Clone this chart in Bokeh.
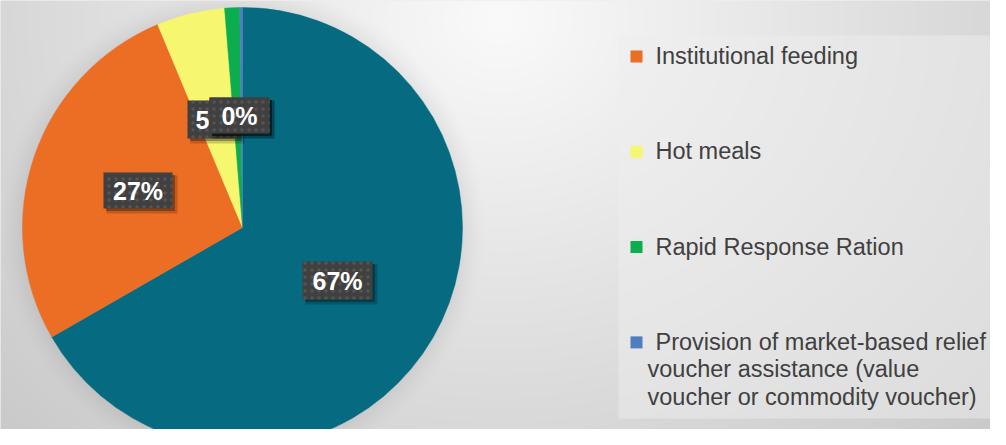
import math
import textwrap
import numpy as np
from bokeh.plotting import figure
from bokeh.models import Range1d, ColumnDataSource
from bokeh.core.properties import value
from bokeh.embed import file_html
from bokeh.resources import INLINE

# ---------------- data ----------------
categories = [
    "Food distribution",
    "Institutional feeding",
    "Hot meals",
    "Rapid Response Ration",
    "Provision of market-based relief voucher assistance (value voucher or commodity voucher)",
]
shares = [66.7, 27.0, 5.0, 1.1, 0.2]
legend_items = [1, 2, 3, 4]  # categories shown in the legend

# ---------------- style ----------------
colors = ["#066A80", "#EC6D24", "#F7F76F", "#0BAD4F", "#4F7DC0"]
W, H = 990, 429


def X(rx):
    return rx


def Y(ry):
    return H - ry


# background (radial grey gradient + lighter legend panel + soft pie shadow)
cols = np.arange(W) + 0.5
rows = H - (np.arange(H) + 0.5)
RX, RY = np.meshgrid(cols, rows)
d = np.sqrt(((RX - 500) / 1.0) ** 2 + ((RY - 20) / 0.85) ** 2)
bg = 250 - 46 * np.clip(d / 660, 0, 1.2)
panel = (RX >= 618) & (RY >= 35) & (RY <= 418)
bg = np.where(panel, bg + (238 - bg) * 0.5, bg)
r = np.sqrt((RX - 242) ** 2 + (RY - 227) ** 2)
shadow = 14 * np.clip(1 - (r - 220) / 24, 0, 1) ** 1.5
bg = np.where(r > 219, bg - shadow, bg)
v = np.clip(bg, 0, 255).astype(np.uint8)
img = np.empty((H, W), dtype=np.uint32)
view = img.view(dtype=np.uint8).reshape((H, W, 4))
view[..., 0] = v
view[..., 1] = v
view[..., 2] = v
view[..., 3] = 255

p = figure(width=W, height=H, x_range=Range1d(0, W), y_range=Range1d(0, H),
           output_backend="svg", toolbar_location=None, min_border=0)
p.axis.visible = False
p.grid.visible = False
p.outline_line_color = None
p.background_fill_color = "#e0e0e0"
p.border_fill_color = "#e0e0e0"

p.image_rgba(image=[img], x=0, y=0, dw=W, dh=H)

# ---------------- pie ----------------
total = sum(shares)
starts, ends = [], []
cum = 0.0
for s in shares:
    f0 = cum / total
    cum += s
    f1 = cum / total
    starts.append(math.pi / 2 - 2 * math.pi * f1)
    ends.append(math.pi / 2 - 2 * math.pi * f0)

src = ColumnDataSource(dict(start=starts, end=ends, color=colors))
p.wedge(x=X(242), y=Y(227), radius=220, start_angle="start", end_angle="end",
        fill_color="color", line_color="color", line_width=0.5, source=src)

# ---------------- data labels ----------------
labels = [f"{round(s)}%" for s in shares]
label_pos = [(337, 280), (137.5, 190), (213, 119), (239, 115), (239, 115)]
label_w = [70, 69, 52, 60, 60]
label_h = [38, 36, 38, 36, 36]
for (lx, ly), lw, lh, txt in zip(label_pos, label_w, label_h, labels):
    p.rect(x=X(lx) + 4, y=Y(ly) - 4, width=lw + 2, height=lh + 2,
           fill_color="black", fill_alpha=0.18, line_color=None)
    p.rect(x=X(lx) + 2.5, y=Y(ly) - 2.5, width=lw, height=lh,
           fill_color="black", fill_alpha=0.3, line_color=None)
    p.rect(x=X(lx), y=Y(ly), width=lw, height=lh, fill_color="#404040",
           line_color=None, hatch_pattern="dot", hatch_color="#555555",
           hatch_scale=7, hatch_weight=1.5)
    p.text(x=[X(lx)], y=[Y(ly)], text=[txt], text_color="white",
           text_font=value("Liberation Sans"), text_font_style="bold",
           text_font_size="25px", text_align="center", text_baseline="middle")

# ---------------- legend ----------------
for i, ci in enumerate(legend_items):
    base = 64 + i * 95.3
    p.rect(x=X(636), y=Y(base - 8), width=12, height=12,
           fill_color=colors[ci], line_color=None)
    lines = textwrap.wrap(categories[ci], 32)
    xs = [X(655)] + [X(647)] * (len(lines) - 1)
    ys = [Y(base - 8.5 + k * 27.5) for k in range(len(lines))]
    p.text(x=xs, y=ys, text=lines, text_color="#404040",
           text_font=value("Liberation Sans"), text_font_size="23.5px",
           text_align="left", text_baseline="middle")

open("out.html", "w").write(file_html(p, INLINE))
